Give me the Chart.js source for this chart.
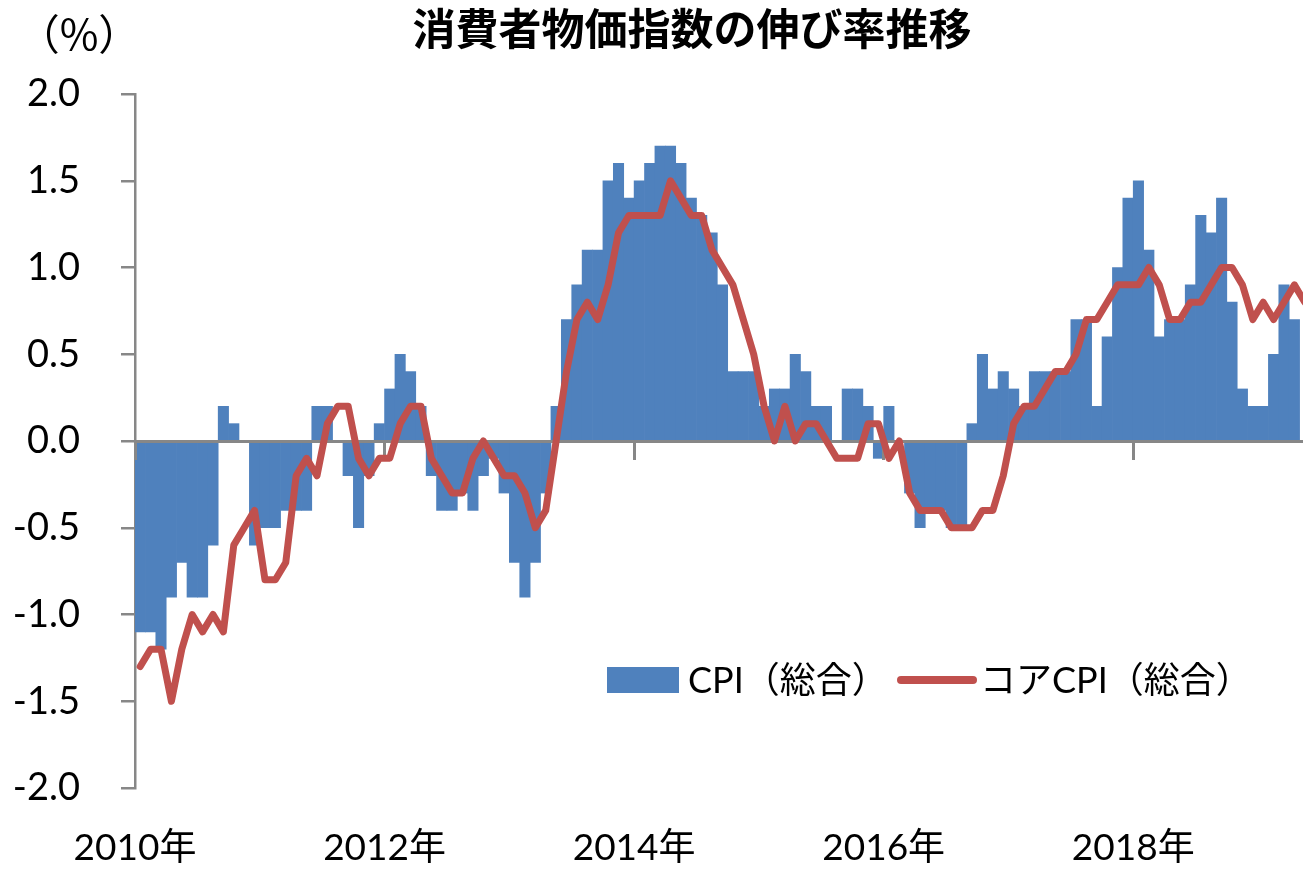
<!DOCTYPE html>
<html lang="ja">
<head>
<meta charset="utf-8">
<title>消費者物価指数の伸び率推移</title>
<script src="https://cdn.jsdelivr.net/npm/chart.js@4.4.1/dist/chart.umd.min.js"></script>
<style>
  html, body { margin: 0; padding: 0; background: #fff; overflow: hidden; }
  canvas { display: block; }
</style>
</head>
<body>
<canvas id="cpiChart" width="1310" height="869"></canvas>
<script>
const chartTitle = "消費者物価指数の伸び率推移";
const unitLabel = "（%）";
const cpiLabel = "CPI（総合）";
const coreLabel = "コアCPI（総合）";

// x axis: months counted from Jan 2010, a label every 2 years
const yearLabels = ["2010年", "2012年", "2014年", "2016年", "2018年"];
const yearTickMonths = [0, 24, 48, 72, 96];
const yTicks = [-2.0, -1.5, -1.0, -0.5, 0.0, 0.5, 1.0, 1.5, 2.0];

// bars, one per month (as placed in the source chart)
const cpiValues = [
  -1.1, -1.1, -1.2, -0.9, -0.7, -0.9, -0.9, -0.6, 0.2, 0.1, 0.0,
  -0.6, -0.5, -0.5, -0.4, -0.4, -0.4, 0.2, 0.2, 0.0, -0.2, -0.5, -0.2,
  0.1, 0.3, 0.5, 0.4, 0.2, -0.2, -0.4, -0.4, -0.3, -0.4, -0.2, -0.1,
  -0.3, -0.7, -0.9, -0.7, -0.3, 0.2, 0.7, 0.9, 1.1, 1.1, 1.5, 1.6,
  1.4, 1.5, 1.6, 1.7, 1.7, 1.6, 1.4, 1.3, 1.2, 0.9, 0.4, 0.4,
  0.4, 0.2, 0.3, 0.3, 0.5, 0.4, 0.2, 0.2, 0.0, 0.3, 0.3, 0.2,
  -0.1, 0.2, 0.0, -0.3, -0.5, -0.4, -0.4, -0.5, -0.5, 0.1, 0.5, 0.3,
  0.4, 0.3, 0.2, 0.4, 0.4, 0.4, 0.4, 0.7, 0.7, 0.2, 0.6, 1.0,
  1.4, 1.5, 1.1, 0.6, 0.7, 0.7, 0.9, 1.3, 1.2, 1.4, 0.8, 0.3,
  0.2, 0.2, 0.5, 0.9, 0.7
];

// line, Jan 2010 - May 2019
const coreValues = [
  -1.3, -1.2, -1.2, -1.5, -1.2, -1.0, -1.1, -1.0, -1.1, -0.6, -0.5, -0.4,
  -0.8, -0.8, -0.7, -0.2, -0.1, -0.2, 0.1, 0.2, 0.2, -0.1, -0.2, -0.1,
  -0.1, 0.1, 0.2, 0.2, -0.1, -0.2, -0.3, -0.3, -0.1, 0.0, -0.1, -0.2,
  -0.2, -0.3, -0.5, -0.4, 0.0, 0.4, 0.7, 0.8, 0.7, 0.9, 1.2, 1.3,
  1.3, 1.3, 1.3, 1.5, 1.4, 1.3, 1.3, 1.1, 1.0, 0.9, 0.7, 0.5,
  0.2, 0.0, 0.2, 0.0, 0.1, 0.1, 0.0, -0.1, -0.1, -0.1, 0.1, 0.1,
  -0.1, 0.0, -0.3, -0.4, -0.4, -0.4, -0.5, -0.5, -0.5, -0.4, -0.4, -0.2,
  0.1, 0.2, 0.2, 0.3, 0.4, 0.4, 0.5, 0.7, 0.7, 0.8, 0.9, 0.9,
  0.9, 1.0, 0.9, 0.7, 0.7, 0.8, 0.8, 0.9, 1.0, 1.0, 0.9, 0.7,
  0.8, 0.7, 0.8, 0.9, 0.8
];

const axisGray = "#878787";
const latinFont = 'Lato, "Noto Sans CJK JP", sans-serif';

Chart.defaults.font.family = latinFont;
Chart.defaults.color = "#000";

const yearTicks = (scale) => { scale.ticks = yearTickMonths.map(v => ({ value: v })); };

// zero line with its tick marks, drawn between the bars and the line
const zeroAxisLayer = {
  id: "zeroAxisLayer",
  beforeDatasetDraw(chart, args) {
    if (args.meta.type !== "line") return;
    const zero = chart.scales.zero;
    zero.drawGrid(chart.chartArea);
    zero.drawBorder();
  }
};

const chartDecor = {
  id: "chartDecor",
  afterDraw(chart) {
    const ctx = chart.ctx;
    const [bars, line] = chart.data.datasets;
    ctx.save();
    ctx.fillStyle = "#000";
    ctx.textBaseline = "middle";
    ctx.textAlign = "center";
    ctx.font = '700 43px "Noto Sans CJK JP"';
    ctx.fillText(chartTitle, 692, 29);
    ctx.font = '42px "Noto Sans CJK JP"';
    ctx.fillText(unitLabel, 79, 34);

    // legend
    ctx.fillStyle = bars.backgroundColor;
    ctx.fillRect(607, 667, 72, 26);
    ctx.strokeStyle = line.borderColor;
    ctx.lineWidth = 8;
    ctx.lineCap = "round";
    ctx.beginPath();
    ctx.moveTo(901, 680);
    ctx.lineTo(973, 680);
    ctx.stroke();
    ctx.fillStyle = "#000";
    ctx.textAlign = "left";
    ctx.font = "36px " + latinFont;
    ctx.fillText(bars.label, 688, 681);
    ctx.fillText(line.label, 980, 681);
    ctx.restore();
  }
};

const ctx = document.getElementById("cpiChart").getContext("2d");
new Chart(ctx, {
  data: {
    datasets: [{
      type: "bar",
      label: cpiLabel,
      data: cpiValues.map((v, i) => ({ x: i + 0.5, y: v })),
      backgroundColor: "#4F81BD",
      borderWidth: 0,
      barPercentage: 1.0,
      categoryPercentage: 1.0,
      order: 2
    }, {
      type: "line",
      label: coreLabel,
      data: coreValues.map((v, i) => ({ x: i + 0.5, y: v })),
      borderColor: "#C0504D",
      borderWidth: 7,
      borderJoinStyle: "round",
      borderCapStyle: "round",
      pointRadius: 0,
      tension: 0,
      order: 1
    }]
  },
  options: {
    responsive: false,
    animation: false,
    devicePixelRatio: 1,
    layout: { padding: { top: 94, left: 0, right: 0, bottom: 0 } },
    plugins: {
      legend: { display: false },
      tooltip: { enabled: false },
      title: { display: false }
    },
    scales: {
      x: {
        type: "linear",
        position: "bottom",
        offset: false,
        min: 0,
        max: coreValues.length,
        grid: { display: false, drawTicks: false, offset: false },
        border: { display: false },
        afterBuildTicks: yearTicks,
        afterFit: (s) => { s.height = 81; },
        ticks: {
          callback: (v, i) => yearLabels[i],
          font: { size: 37 },
          padding: 38,
          autoSkip: false,
          maxRotation: 0
        }
      },
      zero: {
        type: "linear",
        axis: "x",
        position: { y: 0 },
        display: false,
        offset: false,
        min: 0,
        max: coreValues.length,
        afterBuildTicks: yearTicks,
        ticks: { display: false },
        grid: { drawOnChartArea: false, drawTicks: true, tickLength: 17, color: axisGray, lineWidth: 3 },
        border: { display: true, color: axisGray, width: 3 }
      },
      y: {
        min: -2,
        max: 2,
        afterBuildTicks: (s) => { s.ticks = yTicks.map(v => ({ value: v })); },
        afterFit: (s) => { s.width = 135; },
        ticks: {
          callback: (v) => v.toFixed(1),
          font: { size: 38 },
          padding: 41
        },
        grid: { drawOnChartArea: false, drawTicks: true, tickLength: 14, color: axisGray, lineWidth: 2.5 },
        border: { color: axisGray, width: 2.5 }
      }
    }
  },
  plugins: [zeroAxisLayer, chartDecor]
});
</script>
</body>
</html>
